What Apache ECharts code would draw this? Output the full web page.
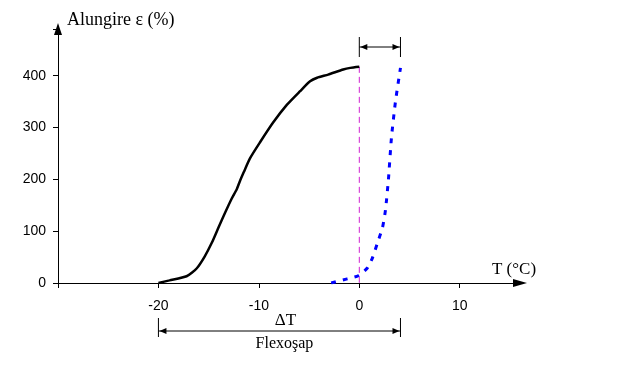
<!DOCTYPE html>
<html>
<head>
<meta charset="utf-8">
<script src="https://cdn.jsdelivr.net/npm/echarts@6/dist/echarts.min.js"></script>
<style>html,body{margin:0;padding:0;background:#fff;}#c{width:643px;height:372px;}</style>
</head>
<body>
<div id="c"></div>
<script>
// Data
var blackT = [-20, -18.9, -17.2, -16.2, -15.4, -14.7, -14.0, -13.4, -12.7, -12.2, -11.9, -11.5, -10.9, -9.9, -8.6, -7.2, -5.9, -4.9, -4.2, -3.1, -1.6, -0.9, 0];
var blackE = [0, 5, 13, 28, 51, 77, 108, 134, 163, 181, 196, 214, 240, 271, 309, 344, 370, 389, 396, 402, 412, 415, 417];
var blueT = [-2.8, -1.2, -0.1, 0.8, 1.3, 1.8, 2.3, 2.6, 2.9, 3.2, 3.6, 4.1];
var blueE = [0, 8, 14, 29, 48, 77, 106, 140, 200, 280, 350, 415];
var xTicks = [-30, -20, -10, 0, 10];
var xLabelled = [-20, -10, 0, 10];
var yTicks = [0, 100, 200, 300, 400];
var topRange = [0, 4.1];
var bottomRange = [-20, 4.1];
var yName = 'Alungire ε (%)';
var xName = 'T (°C)';
var dimLabel = 'ΔT';
var dimSub = 'Flexoşap';

function pairs(a, b) { return a.map(function (v, i) { return [v, b[i]]; }); }

var chart = echarts.init(document.getElementById('c'), null, {renderer: 'canvas'});
var serif = 'Liberation Serif, Times New Roman, serif';
var sans = 'Liberation Sans, Arial, sans-serif';

chart.setOption({
  animation: false,
  grid: {left: 58, top: 29, width: 462, bottom: 89, containLabel: false},
  xAxis: {
    type: 'value', min: xTicks[0], max: 16, interval: 10,
    splitLine: {show: false},
    axisLine: {onZero: false, lineStyle: {color: '#000', width: 1}, symbol: ['none', 'triangle'], symbolSize: [8, 14]},
    axisTick: {inside: false, length: 5, lineStyle: {color: '#000'}},
    axisLabel: {margin: 16, color: '#000', fontFamily: sans, fontSize: 14, showMaxLabel: false,
      formatter: function (v) { return xLabelled.indexOf(v) >= 0 ? String(v) : ''; }}
  },
  yAxis: {
    type: 'value', min: 0, max: 490, interval: 100,
    splitLine: {show: false},
    axisLine: {onZero: false, lineStyle: {color: '#000', width: 1}, symbol: ['none', 'triangle'], symbolSize: [8, 12]},
    axisTick: {inside: false, length: 5, lineStyle: {color: '#000'}},
    axisLabel: {margin: 12, color: '#000', fontFamily: sans, fontSize: 14,
      formatter: function (v) { return yTicks.indexOf(v) >= 0 ? String(v) : ''; }}
  },
  series: [
    {type: 'line', data: pairs(blackT, blackE), showSymbol: false, smooth: 0.2,
      lineStyle: {color: '#000', width: 2.5}, z: 3},
    {type: 'line', data: pairs(blueT, blueE), showSymbol: false, smooth: 0.2,
      lineStyle: {color: '#0000ff', width: 3, type: [5, 7]}, z: 3},
    {type: 'line', data: [[topRange[0], blackE[blackE.length - 1]], [topRange[0], 0]], showSymbol: false,
      lineStyle: {color: '#d020d0', width: 1, type: [6, 4]}, z: 2}
  ]
});

function px(x) { return chart.convertToPixel({gridIndex: 0}, [x, 0])[0]; }

function dimension(x1, x2, yLine, yTop, yBot) {
  var a = px(x1), b = px(x2), L = 7, H = 3;
  return [
    {type: 'line', shape: {x1: a, y1: yTop, x2: a, y2: yBot}, style: {stroke: '#000', lineWidth: 1}},
    {type: 'line', shape: {x1: b, y1: yTop, x2: b, y2: yBot}, style: {stroke: '#000', lineWidth: 1}},
    {type: 'line', shape: {x1: a, y1: yLine, x2: b, y2: yLine}, style: {stroke: '#000', lineWidth: 1}},
    {type: 'polygon', shape: {points: [[a + 1, yLine], [a + 1 + L, yLine - H], [a + 1 + L, yLine + H]]}, style: {fill: '#000'}},
    {type: 'polygon', shape: {points: [[b - 1, yLine], [b - 1 - L, yLine - H], [b - 1 - L, yLine + H]]}, style: {fill: '#000'}}
  ];
}

var g = [];
g = g.concat(dimension(topRange[0], topRange[1], 47, 37, 57));
g = g.concat(dimension(bottomRange[0], bottomRange[1], 331, 318, 337));
var midX = (px(bottomRange[0]) + px(bottomRange[1])) / 2;
g.push({type: 'text', x: 67, y: 20, style: {text: yName, font: '18px ' + serif, fill: '#000', textAlign: 'left', textVerticalAlign: 'middle'}});
g.push({type: 'text', x: 514, y: 270, style: {text: xName, font: '17px ' + serif, fill: '#000', textAlign: 'center', textVerticalAlign: 'middle'}});
g.push({type: 'text', x: midX + 6, y: 321, style: {text: dimLabel, font: '17px ' + serif, fill: '#000', textAlign: 'center', textVerticalAlign: 'middle'}});
g.push({type: 'text', x: midX + 5, y: 344, style: {text: dimSub, font: '16px ' + serif, fill: '#000', textAlign: 'center', textVerticalAlign: 'middle'}});
chart.setOption({graphic: g});
</script>
</body>
</html>
